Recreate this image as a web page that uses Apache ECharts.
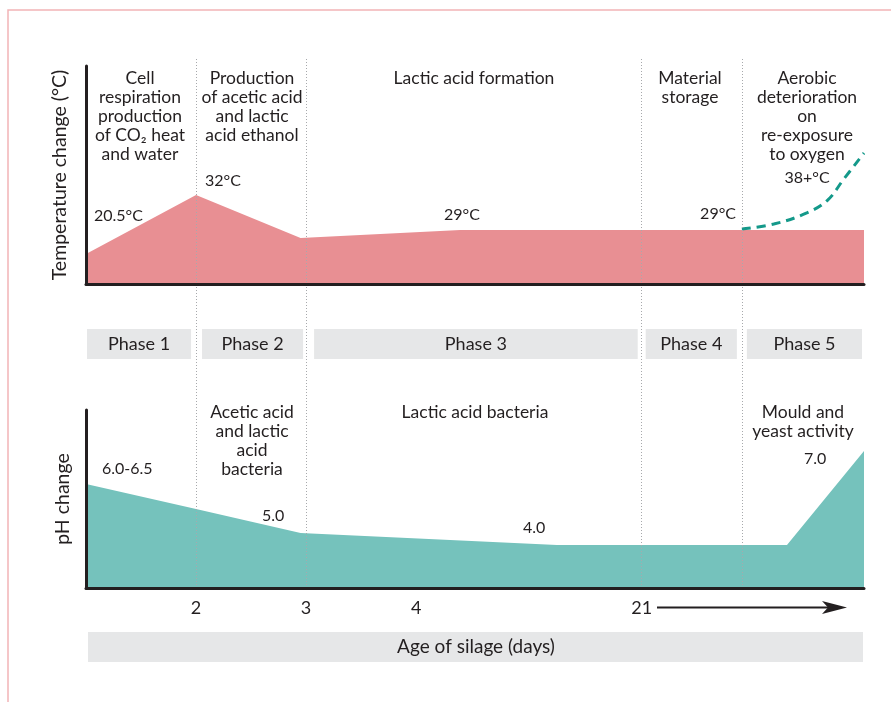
<!DOCTYPE html>
<html>
<head>
<meta charset="utf-8">
<script src="https://cdn.jsdelivr.net/npm/echarts@6/dist/echarts.min.js"></script>
<style>
  html, body { margin: 0; padding: 0; background: #fff; }
  #main { width: 891px; height: 702px; }
</style>
</head>
<body>
<div id="main"></div>
<script>
  // x is a "position" scale: one unit per day up to day 4, later days squeezed
  var tickPos = [2, 3, 4, 6.05]
  var tickLabels = ['2', '3', '4', '21']
  var phaseEdges = [1, 2, 3, 6.05, 6.96, 8.07]
  var phaseNames = ['Phase 1', 'Phase 2', 'Phase 3', 'Phase 4', 'Phase 5']

  // temperature curve (relative height 0-100 of the panel)
  var tempPos = [1, 2, 2.95, 4.4, 8.07]
  var tempLevel = [13.8, 40.8, 21.1, 24.8, 24.8]
  // aerobic re-exposure (dashed)
  var aerobicPos = [6.96, 7.25, 7.55, 7.74, 7.88, 8.07]
  var aerobicLevel = [25.2, 27.5, 32.6, 38.5, 47.7, 60.1]

  // pH curve (relative height 0-100 of the panel)
  var phPos = [1, 2, 2.95, 5.28, 7.37, 8.07]
  var phLevel = [58.4, 44.4, 30.9, 24.2, 24.2, 77.0]

  var FONT = 'Lato'
  var INK = '#231f20'

  function zip(a, b) {
    return a.map(function (v, i) { return [v, b[i]] })
  }

  function txt(text, x, y, size, align, vAlign) {
    return {
      type: 'text',
      silent: true,
      style: {
        text: text,
        x: x,
        y: y,
        fill: INK,
        fontFamily: FONT,
        fontSize: size,
        lineHeight: 19,
        align: align || 'center',
        verticalAlign: vAlign || 'middle'
      }
    }
  }

  var chart = echarts.init(document.getElementById('main'))

  var hiddenY = function (idx) {
    return {
      gridIndex: idx, type: 'value', min: 0, max: 100, show: false
    }
  }
  var plainX = function (idx) {
    return {
      gridIndex: idx, type: 'value', min: phaseEdges[0], max: phaseEdges[5], show: false
    }
  }

  chart.setOption({
    animation: false,
    grid: [
      { left: 86, right: 27, top: 66, bottom: 418 },   // temperature
      { left: 86, right: 27, top: 410, bottom: 114 },  // pH
      { left: 86, right: 27, top: 57, bottom: 114 },   // divider lines
      { left: 86, right: 27, top: 329, bottom: 343 }   // phase band
    ],
    xAxis: [{
      gridIndex: 0,
      type: 'value',
      min: phaseEdges[0],
      max: phaseEdges[5],
      z: 5,
      axisLine: { show: true, lineStyle: { color: '#231f20', width: 3 } },
      axisTick: { show: false },
      axisLabel: { show: false },
      splitLine: { show: false }
    }, {
      gridIndex: 1,
      type: 'value',
      min: phaseEdges[0],
      max: phaseEdges[5],
      z: 5,
      axisLine: { show: true, lineStyle: { color: '#231f20', width: 3 } },
      axisTick: { show: false },
      splitLine: { show: false },
      axisLabel: {
        customValues: tickPos,
        formatter: function (v) {
          return tickLabels[tickPos.indexOf(v)]
        },
        margin: 11,
        fontSize: 18,
        fontFamily: FONT,
        color: INK
      }
    }, plainX(2), plainX(3)],
    yAxis: [{
      gridIndex: 0,
      type: 'value',
      min: 0,
      max: 100,
      z: 5,
      name: 'Temperature change (°C)',
      nameLocation: 'middle',
      nameGap: 16,
      nameTextStyle: { fontSize: 19.5, fontFamily: FONT, color: INK },
      axisLine: { show: true, lineStyle: { color: '#231f20', width: 3 } },
      axisTick: { show: false },
      axisLabel: { show: false },
      splitLine: { show: false }
    }, {
      gridIndex: 1,
      type: 'value',
      min: 0,
      max: 100,
      z: 5,
      name: 'pH change',
      nameLocation: 'middle',
      nameGap: 13,
      nameTextStyle: { fontSize: 19.5, fontFamily: FONT, color: INK },
      axisLine: { show: true, lineStyle: { color: '#231f20', width: 3 } },
      axisTick: { show: false },
      axisLabel: { show: false },
      splitLine: { show: false }
    }, hiddenY(2), {
      gridIndex: 3, type: 'value', min: 0, max: 1, show: false
    }],
    series: [{
      name: 'dividers',
      type: 'line',
      xAxisIndex: 2,
      yAxisIndex: 2,
      data: [],
      markLine: {
        silent: true,
        symbol: ['none', 'none'],
        label: { show: false },
        lineStyle: { color: '#a7a9ac', type: [1, 2], width: 1 },
        data: phaseEdges.slice(1, 5).map(function (v) { return { xAxis: v } })
      }
    }, {
      name: 'Temperature',
      type: 'line',
      xAxisIndex: 0,
      yAxisIndex: 0,
      symbol: 'none',
      lineStyle: { width: 0, opacity: 0 },
      areaStyle: { color: '#e88f93', opacity: 1 },
      data: zip(tempPos, tempLevel)
    }, {
      name: 'Aerobic',
      type: 'line',
      xAxisIndex: 0,
      yAxisIndex: 0,
      symbol: 'none',
      smooth: 0.4,
      lineStyle: { width: 3, color: '#14998a', type: [9, 6] },
      data: zip(aerobicPos, aerobicLevel)
    }, {
      name: 'pH',
      type: 'line',
      xAxisIndex: 1,
      yAxisIndex: 1,
      symbol: 'none',
      lineStyle: { width: 0, opacity: 0 },
      areaStyle: { color: '#75c2bc', opacity: 1 },
      data: zip(phPos, phLevel)
    }, {
      name: 'phases',
      type: 'custom',
      xAxisIndex: 3,
      yAxisIndex: 3,
      silent: true,
      data: phaseNames.map(function (n, i) { return [phaseEdges[i], phaseEdges[i + 1], i] }),
      renderItem: function (params, api) {
        var i = api.value(2)
        var a = api.coord([api.value(0), 1])
        var b = api.coord([api.value(1), 0])
        var x0 = a[0] + [1, 6, 8, 4, 5][i]
        var x1 = b[0] - [5, 3, 4, 5, 2][i]
        return {
          type: 'group',
          children: [{
            type: 'rect',
            shape: { x: x0, y: a[1], width: x1 - x0, height: b[1] - a[1] },
            style: { fill: '#e6e7e8' }
          }, {
            type: 'text',
            style: {
              text: phaseNames[i],
              x: (x0 + x1) / 2,
              y: (a[1] + b[1]) / 2,
              align: 'center',
              verticalAlign: 'middle',
              fontFamily: FONT,
              fontSize: 18,
              fill: INK
            }
          }]
        }
      }
    }],
    graphic: [
      {
        type: 'polyline',
        silent: true,
        shape: { points: [[8, 702], [8, 10], [891, 10]] },
        style: { stroke: '#f2b4b7', lineWidth: 1.5, fill: null }
      },
      {
        type: 'rect',
        silent: true,
        shape: { x: 88, y: 632, width: 775, height: 30 },
        style: { fill: '#e6e7e8' }
      },
      txt('Age of silage (days)', 476, 647, 19),
      {
        type: 'line',
        silent: true,
        shape: { x1: 657, y1: 607.5, x2: 830, y2: 607.5 },
        style: { stroke: '#231f20', lineWidth: 2.2 }
      },
      {
        type: 'polygon',
        silent: true,
        shape: { points: [[822, 601], [847, 607.5], [822, 614], [828, 607.5]] },
        style: { fill: '#231f20' }
      },
      // phase descriptions, temperature panel
      txt('Cell\nrespiration\nproduction\nof CO₂ heat\nand water', 140, 68.5, 17.5, 'center', 'top'),
      txt('Production\nof acetic acid\nand lactic\nacid ethanol', 252, 68.5, 17.5, 'center', 'top'),
      txt('Lactic acid formation', 474, 68.5, 17.5, 'center', 'top'),
      txt('Material\nstorage', 690, 68.5, 17.5, 'center', 'top'),
      txt('Aerobic\ndeterioration\non\nre-exposure\nto oxygen', 807, 68.5, 17.5, 'center', 'top'),
      txt('38+°C', 807, 178, 16),
      txt('32°C', 205, 181, 16, 'left'),
      txt('20.5°C', 94, 216, 16, 'left'),
      txt('29°C', 444, 215, 16, 'left'),
      txt('29°C', 736, 214, 16, 'right'),
      // pH panel
      txt('Acetic acid\nand lactic\nacid\nbacteria', 252, 402.5, 17.5, 'center', 'top'),
      txt('Lactic acid bacteria', 475, 402.5, 17.5, 'center', 'top'),
      txt('Mould and\nyeast activity', 803, 402.5, 17.5, 'center', 'top'),
      txt('6.0-6.5', 102, 469, 16, 'left'),
      txt('5.0', 262, 516, 16, 'left'),
      txt('4.0', 523, 528, 16, 'left'),
      txt('7.0', 804, 459, 16, 'left')
    ]
  })
</script>
</body>
</html>
